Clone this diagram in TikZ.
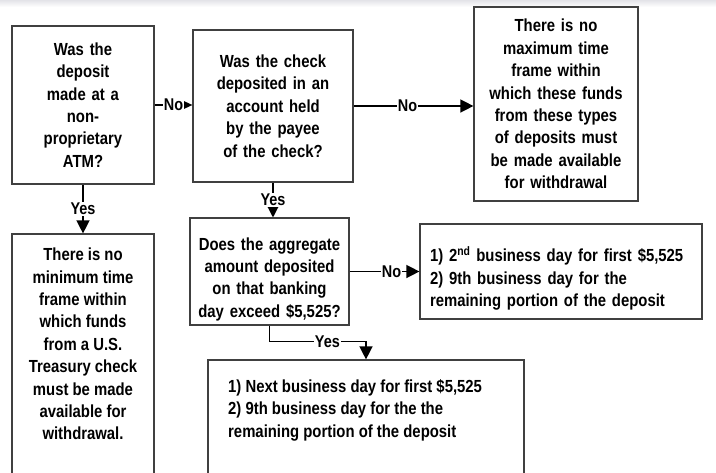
\documentclass[tikz,border=0pt]{standalone}
\usepackage{fontspec}
\setmainfont{Liberation Sans}[FakeStretch=0.85]
\usetikzlibrary{positioning,arrows.meta}

\begin{document}
\begin{tikzpicture}[x=1pt,y=-1pt]
%			\useasboundingbox[draw=red] (0,0) rectangle (716,472);
			\tikzset{
			  BoxStyle/.style = { draw = black!75, line width = 1.2pt, fill = white,
			                      font = \fontsize{17.5}{22.4}\selectfont\bfseries,
			                      align = center, inner sep = 4pt },
			  TextStyle/.style = { inner sep = 0pt,
			                       font = \fontsize{17.5}{22.4}\selectfont\bfseries },
			  LabelStyle/.style = { fill = white, inner sep = 1pt,
			                        font = \fontsize{17}{18}\selectfont\bfseries },
			  EdgeStyle/.style = { line width = 1.4pt,
			                       -{Triangle[length=13pt,width=13pt]} } }
			\useasboundingbox (0,0) rectangle (716,472);
			\fill[top color = blue!10!gray!20, bottom color = white] (0,0) rectangle (716,7);
			\node[BoxStyle, minimum width = 142pt, minimum height = 158pt,
			      text width = 132pt] (atm) at (83,105)
			      {Was the\\ deposit\\ made at a\\ non-\\ proprietary\\ ATM?};
			\node[BoxStyle, minimum width = 160pt, minimum height = 152pt,
			      text width = 150pt] (payee) at (273,106)
			      {Was the check\\ deposited in an\\ account held\\ by the payee\\ of the check?};
			\node[BoxStyle, minimum width = 164pt, minimum height = 194pt,
			      text width = 154pt] (maxframe) at (556,104)
			      {There is no\\ maximum time\\ frame within\\ which these funds\\ from these types\\ of deposits must\\ be made available\\ for withdrawal};
			\node[BoxStyle, minimum width = 142pt, minimum height = 250pt] (nomin) at (83,359) {};
			\node[TextStyle, align = center] (nomintext) at (83,344)
			      {There is no\\ minimum time\\ frame within\\ which funds\\ from a U.S.\\ Treasury check\\ must be made\\ available for\\ withdrawal.};
			\node[BoxStyle, minimum width = 159pt, minimum height = 95pt,
			      text width = 151pt] (aggregate) at (269.5,271.5)
			      {\rule{0pt}{28pt}Does the aggregate\\ amount deposited\\ on that banking\\ day exceed \$5,525?};
			\node[BoxStyle, align = left, inner xsep = 10pt, minimum height = 95pt,
			      text width = 262pt] (secondday) at (561,271.5)
			      {\rule{0pt}{29pt}1) 2\textsuperscript{nd} business day for first \$5,525\\ 2) 9th business day for the\\ remaining portion of the deposit};
			\node[BoxStyle, minimum width = 316pt, minimum height = 116pt] (nextday) at (366,418) {};
			\node[TextStyle, align = left, anchor = west] (nextdaytext) at (228,410)
			      {1) Next business day for first \$5,525\\ 2) 9th business day for the the\\ remaining portion of the deposit};
			\draw[EdgeStyle, -{Triangle[length=9pt,width=8pt]}] (atm.east)
			      -- node[LabelStyle, pos = 0.5] {No} (atm.east -| payee.west);
			\draw[EdgeStyle] (payee.east) -- node[LabelStyle, pos = 0.45] {No} (payee.east -| maxframe.west);
			\draw[EdgeStyle] (atm) -- node[LabelStyle] {Yes} (nomin);
			\draw[EdgeStyle] (payee.south) -- node[LabelStyle] {Yes} (payee.south |- aggregate.north);
			\draw[EdgeStyle] (aggregate.east) -- node[LabelStyle, pos = 0.6] {No} (secondday.west);
			\draw[EdgeStyle] (aggregate.south) -- ++(0,16)
			      -| node[LabelStyle, pos = 0.3] {Yes} (nextday.north);
		\end{tikzpicture}
\end{document}
